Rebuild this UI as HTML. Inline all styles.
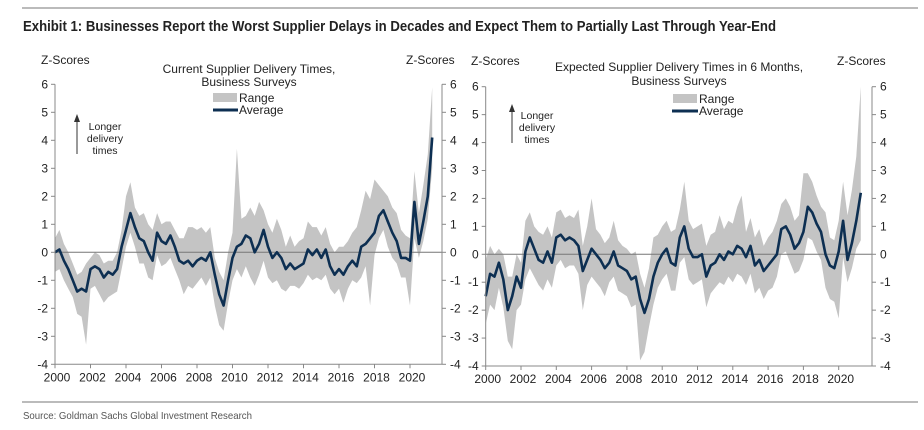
<!DOCTYPE html>
<html><head><meta charset="utf-8"><style>
body{margin:0;background:#fff;width:924px;height:430px;overflow:hidden;font-family:"Liberation Sans",sans-serif}
svg{position:absolute;left:0;top:0}
</style></head><body>
<svg id="c" width="924" height="430">
<line x1="22" y1="8" x2="918" y2="8" stroke="#777" stroke-width="1"/>
<text x="23" y="31" font-size="15" font-weight="bold" textLength="753" lengthAdjust="spacingAndGlyphs" fill="#222">Exhibit 1: Businesses Report the Worst Supplier Delays in Decades and Expect Them to Partially Last Through Year-End</text>
<line x1="22" y1="402" x2="918" y2="402" stroke="#777" stroke-width="1"/>
<text x="23" y="419" font-size="10.5" textLength="229" lengthAdjust="spacingAndGlyphs" fill="#555">Source: Goldman Sachs Global Investment Research</text>
</svg>
<script>
const years=[2000,2002,2004,2006,2008,2010,2012,2014,2016,2018,2020];
const yTicks=[6,5,4,3,2,1,0,-1,-2,-3,-4];
const leftAvg=[0,0.1,-0.3,-0.6,-1.0,-1.4,-1.3,-1.4,-0.6,-0.5,-0.6,-0.9,-0.7,-0.8,-0.6,0.2,0.8,1.4,0.9,0.5,0.4,0.0,-0.3,0.7,0.4,0.3,0.6,0.2,-0.3,-0.4,-0.3,-0.5,-0.3,-0.2,-0.3,0.0,-0.8,-1.5,-1.9,-1.0,-0.2,0.2,0.3,0.6,0.5,0.0,0.3,0.8,0.2,-0.2,0.0,-0.2,-0.6,-0.4,-0.6,-0.5,-0.4,0.1,-0.1,0.1,-0.2,0.1,-0.5,-0.8,-0.6,-0.8,-0.5,-0.3,-0.5,0.2,0.3,0.5,0.7,1.3,1.5,1.1,0.7,0.4,-0.2,-0.2,-0.3,1.8,0.3,1.1,2.0,4.1];
const leftHi=[0.5,0.8,0.3,0.0,-0.4,-0.8,-0.7,-0.4,-0.2,0.0,-0.1,-0.4,-0.3,-0.3,0.0,0.8,2.0,2.5,1.6,1.3,1.4,1.0,0.8,1.4,1.0,1.1,1.1,0.8,0.5,0.5,0.9,0.9,0.8,0.9,0.7,0.9,-0.2,-0.7,-1.0,0.0,0.7,3.7,1.2,1.3,1.6,1.3,1.8,1.5,1.0,0.7,1.2,0.8,0.2,0.6,0.2,0.4,0.5,1.1,0.9,0.9,0.6,0.9,0.3,0.0,0.2,0.2,0.4,0.7,0.9,1.5,2.2,1.9,2.6,2.4,2.2,2.0,1.6,1.4,0.8,0.6,0.5,2.9,1.4,2.4,3.5,5.9];
const leftLo=[-0.7,-0.6,-1.0,-1.3,-1.6,-2.2,-2.3,-3.3,-1.3,-1.2,-1.5,-1.8,-1.6,-1.5,-1.4,-0.6,0.2,0.7,0.2,-0.4,-0.4,-0.9,-1.0,-0.1,-0.5,-0.4,-0.2,-0.6,-1.0,-1.5,-1.2,-1.3,-1.1,-0.9,-1.2,-0.9,-1.9,-2.6,-2.8,-1.8,-1.0,-0.6,-0.9,-0.5,-0.9,-1.2,-0.8,-0.3,-0.9,-1.1,-1.0,-1.3,-1.4,-1.2,-1.2,-1.3,-1.1,-0.8,-1.0,-0.9,-1.0,-0.8,-1.3,-1.5,-1.3,-1.8,-1.3,-1.0,-1.1,-0.9,-0.5,-1.9,-0.1,0.5,0.8,0.2,-0.2,-0.4,-0.9,-0.9,-1.9,0.5,-0.2,0.4,1.2,3.0];
const rightAvg=[-1.5,-0.7,-0.8,-0.3,-0.9,-2.0,-1.5,-0.8,-1.2,0.1,0.6,0.2,-0.2,-0.3,0.1,-0.3,0.6,0.7,0.5,0.6,0.5,0.3,-0.6,-0.2,0.2,0.0,-0.2,-0.5,-0.3,0.1,-0.4,-0.5,-0.6,-0.9,-0.8,-1.6,-2.1,-1.6,-0.8,-0.3,0.0,0.2,-0.3,-0.4,0.6,1.0,0.2,-0.1,-0.1,0.0,-0.8,-0.4,-0.3,0.0,-0.2,0.1,0.0,0.3,0.2,-0.1,0.3,-0.4,-0.2,-0.6,-0.4,-0.2,0.0,0.9,1.0,0.7,0.2,0.4,0.8,1.7,1.5,1.1,0.8,0.0,-0.4,-0.5,0.1,1.2,-0.2,0.4,1.2,2.2];
const rightHi=[-0.2,0.3,0.0,0.2,0.0,-0.8,-0.8,0.0,-0.3,1.2,1.5,1.0,0.8,0.7,1.0,0.6,1.5,1.6,1.3,1.4,1.3,1.6,0.3,1.0,2.0,0.9,0.7,0.4,0.6,1.2,0.5,0.3,0.2,0.0,0.1,-0.7,-1.2,-0.5,0.6,0.7,1.0,1.2,0.8,0.9,1.6,2.6,1.2,0.9,1.0,1.1,0.3,0.7,0.8,1.4,0.9,1.2,1.1,1.7,2.1,0.8,1.3,0.6,0.9,0.3,0.6,0.8,1.2,1.8,2.0,1.7,1.2,1.4,2.9,2.9,2.6,2.1,1.7,1.5,0.6,0.5,1.2,2.6,1.4,2.3,3.5,6.0];
const rightLo=[-2.5,-1.8,-2.0,-1.2,-1.9,-3.1,-3.4,-2.0,-1.8,-0.9,-0.5,-0.8,-1.1,-1.3,-0.9,-1.2,-0.4,-0.2,-0.5,-0.4,-0.4,-0.7,-2.0,-1.1,-0.8,-1.0,-1.2,-1.5,-1.0,-0.8,-1.3,-1.4,-1.5,-1.9,-1.8,-3.8,-3.5,-2.6,-1.8,-1.2,-0.9,-0.7,-1.3,-1.3,-0.3,-0.1,-0.9,-1.1,-1.0,-0.9,-1.9,-1.4,-1.2,-1.0,-1.1,-0.8,-1.0,-0.7,-0.8,-1.1,-0.7,-1.4,-1.2,-1.6,-1.3,-1.2,-0.8,0.0,0.1,-0.3,-0.7,-0.6,-0.2,0.6,0.5,0.1,-0.2,-1.2,-1.6,-1.7,-2.3,-0.1,-1.0,-0.5,0.2,0.5];

const NS='http://www.w3.org/2000/svg';
const svg=document.getElementById('c');
function mk(tag,attrs,parent){const e=document.createElementNS(NS,tag);for(const k in attrs)e.setAttribute(k,attrs[k]);(parent||svg).appendChild(e);return e;}

function panel(cfg){
  const g=mk('g',{});
  
  
  const x=t=>cfg.x0+(t-2000)*cfg.pxYear;
  const y=v=>cfg.y6+(6-v)*cfg.pxUnit;
  const tq=i=>2000+i*0.25;
  let d='';
  cfg.hi.forEach((v,i)=>{d+=(i?'L':'M')+x(tq(i)).toFixed(1)+','+y(v).toFixed(1);});
  for(let i=cfg.lo.length-1;i>=0;i--)d+='L'+x(tq(i)).toFixed(1)+','+y(cfg.lo[i]).toFixed(1);
  const band=mk('path',{d:d+'Z',fill:'#c4c4c4'},g);
  
  
  const z=mk('line',{x1:cfg.xL,x2:cfg.xR,y1:y(0),y2:y(0),stroke:'#777','stroke-width':1},g);
  
  
  let p='';
  cfg.avg.forEach((v,i)=>{p+=(i?'L':'M')+x(tq(i)).toFixed(1)+','+y(v).toFixed(1);});
  const al=mk('path',{d:p,fill:'none',stroke:'#0d2f52','stroke-width':2.6,'stroke-linejoin':'round'},g);
  
  
  const yb=y(-4);
  [cfg.xL,cfg.xR].forEach(a=>{
    const ax=mk('line',{x1:a,x2:a,y1:y(6),y2:yb,stroke:'#888'},g);
    
    
  });
  const xa=mk('line',{x1:cfg.xL,x2:cfg.xR,y1:yb,y2:yb,stroke:'#888'},g);
  
  
  yTicks.forEach(v=>{
    mk('line',{x1:cfg.xL-4,x2:cfg.xL,y1:y(v),y2:y(v),stroke:'#888'},g);
    mk('line',{x1:cfg.xR,x2:cfg.xR+4,y1:y(v),y2:y(v),stroke:'#888'},g);
    const t1=mk('text',{x:cfg.xL-7,y:y(v)+4,'font-size':12,'text-anchor':'end',fill:'#222'},g);
    t1.textContent=v;
    
    
    const t2=mk('text',{x:cfg.xR+8,y:y(v)+4,'font-size':12,fill:'#222'},g);
    t2.textContent=v;
    
    
  });
  years.forEach(yr=>{
    mk('line',{x1:x(yr),x2:x(yr),y1:yb,y2:yb+4,stroke:'#888'},g);
    const t=mk('text',{x:x(yr)+2,y:yb+17,'font-size':12,'text-anchor':'middle',fill:'#222'},g);
    t.textContent=yr;
    
    
  });
}
panel({name:'current-delivery-panel',x0:55,pxYear:17.75,y6:84.3,pxUnit:28,xL:55,xR:442,avg:leftAvg,hi:leftHi,lo:leftLo});
panel({name:'expected-delivery-panel',x0:485.7,pxYear:17.65,y6:86.7,pxUnit:27.93,xL:485.7,xR:872,avg:rightAvg,hi:rightHi,lo:rightLo});
</script>
<svg width="924" height="430" style="pointer-events:none">
<g font-size="12" fill="#222">
<text x="41" y="64">Z-Scores</text>
<text x="406" y="64">Z-Scores</text>
<text x="249" y="73" text-anchor="middle">Current Supplier Delivery Times,</text>
<text x="249" y="86" text-anchor="middle">Business Surveys</text>
<rect x="213" y="93" width="24" height="9" fill="#c4c4c4"/>
<text x="239" y="102">Range</text>
<line x1="213" y1="110" x2="238" y2="110" stroke="#0d2f52" stroke-width="3"/>
<text x="239" y="114">Average</text>
<line x1="77" y1="154" x2="77" y2="120" stroke="#333"/>
<polygon points="74,122 80,122 77,114" fill="#333"/>
<g font-size="10.5" text-anchor="middle"><text x="105" y="130">Longer</text><text x="105" y="142">delivery</text><text x="105" y="154">times</text></g>

<text x="471" y="65">Z-Scores</text>
<text x="837" y="65">Z-Scores</text>
<text x="679" y="71" text-anchor="middle">Expected Supplier Delivery Times in 6 Months,</text>
<text x="679" y="85" text-anchor="middle">Business Surveys</text>
<rect x="673" y="94" width="24" height="9" fill="#c4c4c4"/>
<text x="699" y="103">Range</text>
<line x1="672" y1="111" x2="698" y2="111" stroke="#0d2f52" stroke-width="3"/>
<text x="699" y="115">Average</text>
<line x1="512" y1="143" x2="512" y2="110" stroke="#333"/>
<polygon points="509,112 515,112 512,104" fill="#333"/>
<g font-size="10.5" text-anchor="middle"><text x="537" y="119">Longer</text><text x="537" y="131">delivery</text><text x="537" y="143">times</text></g>
</g>
</svg>
</body></html>
